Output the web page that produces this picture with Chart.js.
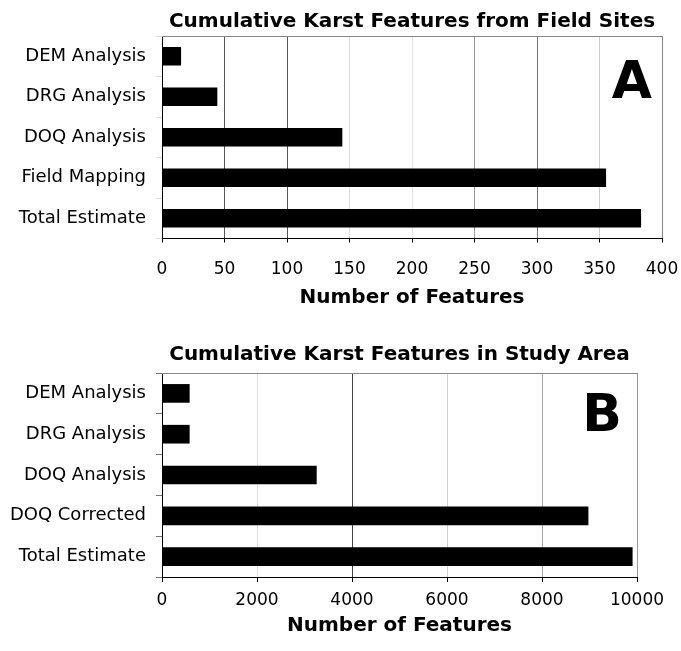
<!DOCTYPE html>
<html lang="en">
<head>
    <meta charset="UTF-8">
    <title>Cumulative Karst Features</title>
    <script src="https://cdn.jsdelivr.net/npm/chart.js@4.4.0/dist/chart.umd.min.js"></script>
    <style>
        body { margin: 0; background: #fff; }
        .panel { position: absolute; left: 0; width: 681px; }
        #topPanel { top: 0; height: 312px; }
        #bottomPanel { top: 312px; height: 339px; }
    </style>
</head>
<body>
    <div class="panel" id="topPanel"><canvas id="fieldChart"></canvas></div>
    <div class="panel" id="bottomPanel"><canvas id="studyChart"></canvas></div>

    <script>
        // panel A - field sites
        const fieldLabels = ['DEM Analysis', 'DRG Analysis', 'DOQ Analysis', 'Field Mapping', 'Total Estimate'];
        const fieldValues = [15, 44, 144, 355, 383];
        const fieldMax = 400;
        const fieldStep = 50;

        // panel B - study area
        const studyLabels = ['DEM Analysis', 'DRG Analysis', 'DOQ Analysis', 'DOQ Corrected', 'Total Estimate'];
        const studyValues = [575, 575, 3250, 8970, 9900];
        const studyMax = 10000;
        const studyStep = 2000;

        Chart.defaults.font.family = "'DejaVu Sans', sans-serif";
        Chart.defaults.color = '#000';

        // grey frame along the top of the plot area
        const topFrame = {
            id: 'topFrame',
            beforeDatasetsDraw(chart) {
                const { ctx, chartArea } = chart;
                ctx.save();
                ctx.strokeStyle = '#888';
                ctx.lineWidth = 1;
                ctx.beginPath();
                ctx.moveTo(chartArea.left, chartArea.top + 0.5);
                ctx.lineTo(chartArea.right, chartArea.top + 0.5);
                ctx.stroke();
                ctx.restore();
            }
        };

        // big panel letter in the top right corner
        const panelLetter = {
            id: 'panelLetter',
            afterDraw(chart, args, opts) {
                const { ctx, chartArea } = chart;
                ctx.save();
                ctx.font = "bold 52px 'DejaVu Sans', sans-serif";
                ctx.fillStyle = '#000';
                ctx.textAlign = 'right';
                ctx.textBaseline = 'alphabetic';
                ctx.fillText(opts.text, chartArea.right - opts.dx, chartArea.top + opts.dy);
                ctx.restore();
            }
        };

        function makeChart(id, cfg) {
            return new Chart(document.getElementById(id), {
                type: 'bar',
                data: {
                    labels: cfg.labels,
                    datasets: [{
                        data: cfg.values,
                        backgroundColor: '#000',
                        borderWidth: 0,
                        barThickness: 18
                    }]
                },
                options: {
                    indexAxis: 'y',
                    responsive: true,
                    maintainAspectRatio: false,
                    animation: false,
                    layout: { padding: { left: 0, right: cfg.padRight, top: 0, bottom: 0 } },
                    plugins: {
                        legend: { display: false },
                        tooltip: { enabled: false },
                        title: {
                            display: true,
                            text: cfg.title,
                            fullSize: false,
                            color: '#000',
                            font: { size: 20, weight: 'bold' },
                            padding: cfg.titlePad
                        },
                        panelLetter: cfg.letter
                    },
                    scales: {
                        x: {
                            min: 0,
                            max: cfg.max,
                            ticks: {
                                stepSize: cfg.step,
                                padding: cfg.tickPad,
                                font: { size: cfg.tickSize },
                                format: { useGrouping: false },
                                color: '#000'
                            },
                            grid: {
                                color: ctx => cfg.gridColors[ctx.index] || '#bbb',
                                tickColor: '#000',
                                tickLength: cfg.tickLen
                            },
                            border: { color: '#000', width: 1 },
                            title: {
                                display: true,
                                text: 'Number of Features',
                                color: '#000',
                                font: { size: 20, weight: 'bold' },
                                padding: { top: 0, bottom: cfg.axisTitlePad }
                            },
                            afterFit(scale) {
                                scale.height = cfg.xHeight;
                                // right margin comes from layout padding only
                                scale.paddingRight = 0;
                            }
                        },
                        y: {
                            ticks: {
                                padding: 10,
                                font: { size: 18 },
                                color: '#000'
                            },
                            grid: {
                                drawOnChartArea: false,
                                color: cfg.yTickColor,
                                tickLength: 6
                            },
                            border: { color: '#000', width: 1 },
                            afterFit(scale) { scale.width = 162; }
                        }
                    }
                },
                plugins: [topFrame, panelLetter]
            });
        }

        makeChart('fieldChart', {
            labels: fieldLabels,
            values: fieldValues,
            max: fieldMax,
            step: fieldStep,
            title: 'Cumulative Karst Features from Field Sites',
            titlePad: { top: 10, bottom: 2 },
            padRight: 19,
            tickPad: 17,
            tickLen: 4,
            tickSize: 17,
            axisTitlePad: 2,
            xHeight: 73.5,
            yTickColor: '#ddd',
            gridColors: ['#000', '#555', '#555', '#ddd', '#e2e2e2', '#999', '#777', '#ccc', '#888'],
            letter: { text: 'A', dx: 10, dy: 62 }
        });

        makeChart('studyChart', {
            labels: studyLabels,
            values: studyValues,
            max: studyMax,
            step: studyStep,
            title: 'Cumulative Karst Features in Study Area',
            titlePad: { top: 31, bottom: 6 },
            padRight: 44,
            tickPad: 8,
            tickLen: 5,
            tickSize: 17,
            axisTitlePad: 13,
            xHeight: 74,
            yTickColor: '#777',
            gridColors: ['#000', '#ddd', '#444', '#d0d0d0', '#aaa', '#999'],
            letter: { text: 'B', dx: 15, dy: 58 }
        });
    </script>
</body>
</html>
